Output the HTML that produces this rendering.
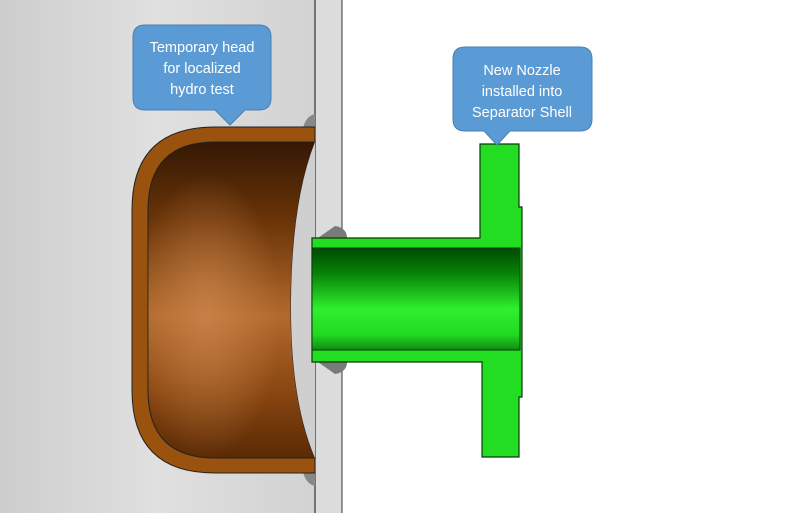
<!DOCTYPE html>
<html><head><meta charset="utf-8"><style>
html,body{margin:0;padding:0;background:#fff;}
svg{display:block;}
text{font-family:"Liberation Sans",sans-serif;font-size:14.5px;fill:#fff;}
</style></head><body>
<svg width="800" height="513" viewBox="0 0 800 513" xmlns="http://www.w3.org/2000/svg">
<defs>
<linearGradient id="bg" x1="0" x2="1" y1="0" y2="0">
<stop offset="0" stop-color="#cdcdcd"/><stop offset="0.5" stop-color="#e0e0e0"/><stop offset="1" stop-color="#d2d2d2"/>
</linearGradient>
<linearGradient id="cav" x1="0" x2="0" y1="0" y2="1">
<stop offset="0" stop-color="#351804"/><stop offset="0.25" stop-color="#6a3408"/><stop offset="0.55" stop-color="#b26a2c"/><stop offset="0.8" stop-color="#874510"/><stop offset="1" stop-color="#5a2a05"/>
</linearGradient>
<radialGradient id="hl" cx="0.35" cy="0.55" r="0.45">
<stop offset="0" stop-color="#d08a50" stop-opacity="0.7"/><stop offset="1" stop-color="#d08a50" stop-opacity="0"/>
</radialGradient>
<linearGradient id="bore" x1="0" x2="0" y1="0" y2="1">
<stop offset="0" stop-color="#004a00"/><stop offset="0.25" stop-color="#078307"/><stop offset="0.6" stop-color="#2ff02f"/><stop offset="0.85" stop-color="#22d822"/><stop offset="1" stop-color="#128a12"/>
</linearGradient>
</defs>
<rect x="0" y="0" width="315" height="513" fill="url(#bg)"/>
<rect x="315" y="0" width="27" height="513" fill="#dcdcdc"/>
<line x1="315" y1="0" x2="315" y2="513" stroke="#333" stroke-width="1.2"/>
<line x1="342" y1="0" x2="342" y2="513" stroke="#555" stroke-width="1.2"/>
<path d="M303 128 Q306 116 315 114 L315 128Z" fill="#888"/>
<path d="M303 472 Q306 484 315 486 L315 472Z" fill="#888"/>
<path d="M315 127 L215 127 Q132 127 132 210 L132 390 Q132 473 215 473 L315 473Z" fill="#9a520f" stroke="#222" stroke-width="1"/>
<path d="M315 142 L215 142 Q148 142 148 210 L148 390 Q148 458 215 458 L315 458 Q290 400 291 300 Q292 200 315 142Z" fill="url(#cav)" stroke="#222" stroke-width="1"/>
<path d="M315 142 L215 142 Q148 142 148 210 L148 390 Q148 458 215 458 L315 458 Q290 400 291 300 Q292 200 315 142Z" fill="url(#hl)"/>
<path d="M315 142 Q292 200 291 300 Q290 400 315 458Z" fill="#cfcfcf"/>
<path d="M315 240 L335 226 Q348 228 347 240Z" fill="#7a7a7a"/>
<path d="M315 360 L335 374 Q348 372 347 360Z" fill="#7a7a7a"/>
<path d="M312 238 L480 238 L480 144 L519 144 L519 207 L522 207 L522 397 L519 397 L519 457 L482 457 L482 362 L312 362Z" fill="#22dd22" stroke="#0a3a0a" stroke-width="1.2"/>
<rect x="312" y="248" width="208" height="102" fill="url(#bore)" stroke="#0a3a0a" stroke-width="1"/>
<path d="M145 25 L259 25 Q271 25 271 37 L271 98 Q271 110 259 110 L245 110 L230 125 L215 110 L145 110 Q133 110 133 98 L133 37 Q133 25 145 25Z" fill="#5b9bd5" stroke="#4a7fb0" stroke-width="1"/>
<text x="202" y="52" text-anchor="middle">Temporary head</text>
<text x="202" y="73" text-anchor="middle">for localized</text>
<text x="202" y="94" text-anchor="middle">hydro test</text>
<path d="M465 47 L580 47 Q592 47 592 59 L592 119 Q592 131 580 131 L510 131 L497 145 L484 131 L465 131 Q453 131 453 119 L453 59 Q453 47 465 47Z" fill="#5b9bd5" stroke="#4a7fb0" stroke-width="1"/>
<text x="522" y="75" text-anchor="middle">New Nozzle</text>
<text x="522" y="96" text-anchor="middle">installed into</text>
<text x="522" y="117" text-anchor="middle">Separator Shell</text>
</svg>
</body></html>
